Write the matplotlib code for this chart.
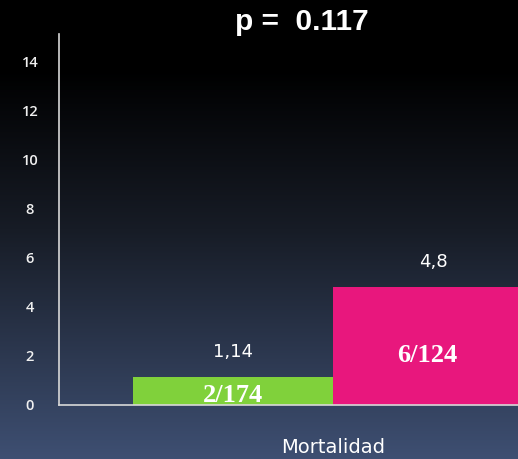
import numpy as np
import matplotlib
matplotlib.use("Agg")
import matplotlib.pyplot as plt
from matplotlib.colors import LinearSegmentedColormap

category = "Mortalidad"
series_values = [1.14, 4.8]
value_labels = ["1,14", "4,8"]
fraction_labels = ["2/174", "6/124"]
bar_colors = ["#80d13b", "#e8177d"]
yticks = [0, 2, 4, 6, 8, 10, 12, 14]
title = "p =  0.117"

fig = plt.figure(figsize=(5.18, 4.59), dpi=100)

# background gradient
bg = fig.add_axes([0, 0, 1, 1], zorder=0)
cmap = LinearSegmentedColormap.from_list(
    "bg", [(0.0, "#000000"), (0.15, "#000000"), (0.5, "#171c26"), (1.0, "#3e4f72")])
grad = np.linspace(0, 1, 256).reshape(-1, 1)
bg.imshow(grad, aspect="auto", cmap=cmap, extent=[0, 1, 0, 1], origin="upper")
bg.set_axis_off()

W, H = 518, 459
left, right = 59, 518
bottom, top = 405, 34
ax = fig.add_axes([left / W, 1 - bottom / H, (right - left) / W, (bottom - top) / H], zorder=1)
ax.patch.set_alpha(0)

xs = [-0.5, 0.5]
ax.bar(xs, series_values, width=1.0, color=bar_colors, zorder=2)
ax.set_xlim(-1.37, 0.925)
ax.set_ylim(0, 15.1)

for x, v, lab in zip(xs, series_values, value_labels):
    ax.text(x, v + 0.65, lab, ha="center", va="bottom", color="white",
            fontsize=13, family="DejaVu Sans")

ax.text(xs[0], 0.4, fraction_labels[0], ha="center", va="center", color="white",
        fontsize=19, fontweight="bold", family="Liberation Serif", zorder=3)
ax.text(xs[1] - 0.03, 2.0, fraction_labels[1], ha="center", va="center", color="white",
        fontsize=19, fontweight="bold", family="Liberation Serif", zorder=3)

ax.set_yticks(yticks)
ax.set_yticklabels([str(t) for t in yticks], color="#f0f0f0", fontsize=10.5,
                   fontweight="semibold", family="Open Sans")
for lbl in ax.get_yticklabels():
    lbl.set_horizontalalignment("center")
ax.tick_params(axis="y", length=0, pad=21)
ax.set_xticks([0])
ax.set_xticklabels([category], color="white", fontsize=14)
ax.tick_params(axis="x", length=0, pad=24)

for s in ["top", "right"]:
    ax.spines[s].set_visible(False)
for s in ["left", "bottom"]:
    ax.spines[s].set_color("#d8d8d8")
    ax.spines[s].set_linewidth(1.2)

fig.text(302 / W, 1 - 22 / H, title, ha="center", va="center", color="white",
         fontsize=21.5, fontweight="bold", family="Liberation Sans")

fig.savefig("out.png", dpi=100)
